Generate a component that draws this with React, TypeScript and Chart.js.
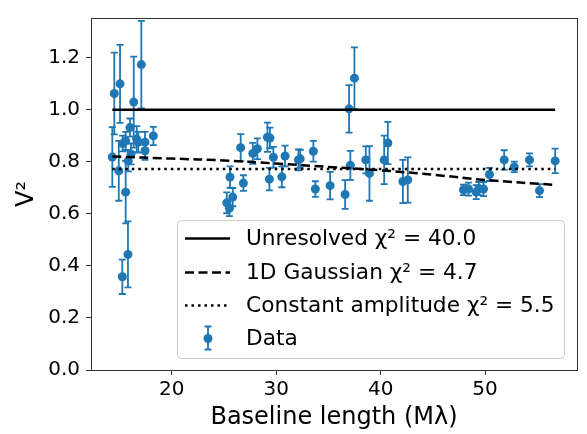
import React, { useEffect, useRef } from 'react';
import { Chart, registerables } from 'chart.js';

Chart.register(...registerables);

// ---- Data ----
const baselines = [
  14.31, 14.5, 14.93, 15.05, 15.27, 15.3, 15.59, 15.59, 15.81, 15.84, 16.0, 16.1, 16.36, 16.65, 16.8, 17.09, 17.44, 17.44, 18.24,
  25.27, 25.52, 25.58, 25.84, 26.6, 26.86, 27.76, 28.2, 29.16, 29.35, 29.4, 29.73, 30.54, 30.85, 32.13, 32.3, 33.56, 33.75,
  35.16, 36.6, 36.98, 37.1, 37.49, 38.58, 38.93, 40.34, 40.69, 42.13, 42.6,
  47.93, 48.41, 49.15, 49.4, 49.85, 50.42, 51.83, 52.79, 54.25, 55.21, 56.71,
];
const visibility = [
  0.818, 1.062, 0.765, 1.099, 0.358, 0.87, 0.683, 0.88, 0.444, 0.803, 0.931, 0.83, 1.029, 0.887, 0.875, 1.173, 0.875, 0.842, 0.899,
  0.642, 0.621, 0.741, 0.664, 0.854, 0.718, 0.832, 0.85, 0.894, 0.733, 0.891, 0.817, 0.742, 0.822, 0.807, 0.811, 0.84, 0.695,
  0.708, 0.674, 1.003, 0.786, 1.121, 0.807, 0.755, 0.807, 0.872, 0.724, 0.73,
  0.692, 0.695, 0.683, 0.697, 0.695, 0.751, 0.807, 0.78, 0.807, 0.689, 0.803,
];
const errors = [
  0.115, 0.157, 0.115, 0.15, 0.066, 0.03, 0.12, 0.035, 0.127, 0.04, 0.035, 0.04, 0.175, 0.05, 0.04, 0.168, 0.04, 0.035, 0.035,
  0.04, 0.03, 0.041, 0.035, 0.052, 0.03, 0.04, 0.04, 0.056, 0.043, 0.04, 0.04, 0.04, 0.04, 0.04, 0.035, 0.04, 0.03,
  0.053, 0.055, 0.091, 0.056, 0.118, 0.052, 0.105, 0.093, 0.081, 0.083, 0.087,
  0.02, 0.025, 0.027, 0.025, 0.027, 0.025, 0.037, 0.02, 0.025, 0.025, 0.047,
];
const modelX = [14.31, 20, 25, 30, 35, 40, 45, 50, 56.71];
const unresolvedV = [1.0, 1.0, 1.0, 1.0, 1.0, 1.0, 1.0, 1.0, 1.0];
const gaussianV = [0.82, 0.812, 0.805, 0.793, 0.78, 0.767, 0.75, 0.73, 0.711];
const constantV = [0.772, 0.772, 0.772, 0.772, 0.772, 0.772, 0.772, 0.772, 0.772];
const xTicks = [20, 30, 40, 50];
const yTicks = [0, 0.2, 0.4, 0.6, 0.8, 1.0, 1.2];
const seriesLabels = [
  'Unresolved χ² = 40.0',
  '1D Gaussian χ² = 4.7',
  'Constant amplitude χ² = 5.5',
  'Data',
];

const BLUE = '#1f77b4';
const FONT = "'DejaVu Sans', sans-serif";

const errorBarPlugin = {
  id: 'errorBars',
  beforeDatasetDraw(chart: any, args: any) {
    if (args.index !== 3) return;
    const ctx = chart.ctx;
    const xs = chart.scales.x;
    const ys = chart.scales.y;
    ctx.save();
    ctx.strokeStyle = BLUE;
    ctx.lineWidth = 1.8;
    for (let i = 0; i < baselines.length; i++) {
      const px = xs.getPixelForValue(baselines[i]);
      const top = ys.getPixelForValue(visibility[i] + errors[i]);
      const bot = ys.getPixelForValue(visibility[i] - errors[i]);
      ctx.beginPath();
      ctx.moveTo(px, top);
      ctx.lineTo(px, bot);
      ctx.moveTo(px - 3.5, top);
      ctx.lineTo(px + 3.5, top);
      ctx.moveTo(px - 3.5, bot);
      ctx.lineTo(px + 3.5, bot);
      ctx.stroke();
    }
    ctx.restore();
  },
};

const framePlugin = {
  id: 'frame',
  afterDatasetsDraw(chart: any) {
    const { ctx, chartArea: a } = chart;
    ctx.save();
    ctx.strokeStyle = '#333';
    ctx.lineWidth = 1;
    ctx.strokeRect(Math.round(a.left) + 0.5, Math.round(a.top) + 0.5, Math.round(a.right - a.left), Math.round(a.bottom - a.top));
    ctx.restore();
  },
};

const legendPlugin = {
  id: 'customLegend',
  afterDraw(chart: any) {
    const ctx = chart.ctx;
    const x0 = 177.5, y0 = 220.5, w = 387, h = 138, r = 4;
    ctx.save();
    ctx.beginPath();
    ctx.moveTo(x0 + r, y0);
    ctx.lineTo(x0 + w - r, y0);
    ctx.arcTo(x0 + w, y0, x0 + w, y0 + r, r);
    ctx.lineTo(x0 + w, y0 + h - r);
    ctx.arcTo(x0 + w, y0 + h, x0 + w - r, y0 + h, r);
    ctx.lineTo(x0 + r, y0 + h);
    ctx.arcTo(x0, y0 + h, x0, y0 + h - r, r);
    ctx.lineTo(x0, y0 + r);
    ctx.arcTo(x0, y0, x0 + r, y0, r);
    ctx.closePath();
    ctx.fillStyle = 'rgba(255,255,255,0.8)';
    ctx.fill();
    ctx.strokeStyle = '#cccccc';
    ctx.lineWidth = 1;
    ctx.stroke();

    const rows = [238.5, 272.5, 305.5, 338.5];
    const lx0 = 185, lx1 = 230, tx = 246;
    ctx.font = `21.7px ${FONT}`;
    ctx.fillStyle = '#000';
    ctx.textBaseline = 'middle';
    ctx.textAlign = 'left';
    const dashes = [[], [9, 4.5], [2.5, 4]];
    for (let i = 0; i < 4; i++) {
      const y = rows[i];
      if (i < 3) {
        ctx.beginPath();
        ctx.setLineDash(dashes[i]);
        ctx.strokeStyle = '#000';
        ctx.lineWidth = 2.5;
        ctx.moveTo(lx0, y);
        ctx.lineTo(lx1, y);
        ctx.stroke();
        ctx.setLineDash([]);
      } else {
        const cx = 208;
        ctx.beginPath();
        ctx.strokeStyle = BLUE;
        ctx.lineWidth = 1.8;
        ctx.moveTo(cx, y - 12);
        ctx.lineTo(cx, y + 11);
        ctx.moveTo(cx - 3.5, y - 12);
        ctx.lineTo(cx + 3.5, y - 12);
        ctx.moveTo(cx - 3.5, y + 11);
        ctx.lineTo(cx + 3.5, y + 11);
        ctx.stroke();
        ctx.beginPath();
        ctx.fillStyle = BLUE;
        ctx.arc(cx, y, 4.5, 0, Math.PI * 2);
        ctx.fill();
        ctx.fillStyle = '#000';
      }
      ctx.fillText(seriesLabels[i], tx, y + 1);
    }
    ctx.restore();
  },
};

export default function App() {
  const ref = useRef<HTMLCanvasElement | null>(null);
  useEffect(() => {
    if (!ref.current) return;
    const line = (ys: number[]) => modelX.map((x, i) => ({ x, y: ys[i] }));
    const chart = new Chart(ref.current, {
      type: 'scatter',
      data: {
        datasets: [
          {
            label: seriesLabels[0],
            data: line(unresolvedV),
            showLine: true,
            borderColor: '#000',
            borderWidth: 2.5,
            pointRadius: 0,
          },
          {
            label: seriesLabels[1],
            data: line(gaussianV),
            showLine: true,
            borderColor: '#000',
            borderWidth: 2.5,
            borderDash: [9, 4.5],
            pointRadius: 0,
            tension: 0.4,
          },
          {
            label: seriesLabels[2],
            data: line(constantV),
            showLine: true,
            borderColor: '#000',
            borderWidth: 2.5,
            borderDash: [2.5, 4],
            pointRadius: 0,
          },
          {
            label: seriesLabels[3],
            data: baselines.map((x, i) => ({ x, y: visibility[i] })),
            backgroundColor: BLUE,
            borderColor: BLUE,
            borderWidth: 0,
            pointRadius: 4.5,
          },
        ],
      } as any,
      options: {
        animation: false,
        responsive: false,
        layout: { padding: { left: 0, top: 7, right: 10, bottom: 0 } },
        plugins: { legend: { display: false }, tooltip: { enabled: false } },
        scales: {
          x: {
            type: 'linear',
            min: 12.27,
            max: 58.8,
            afterBuildTicks: (s: any) => {
              s.ticks = xTicks.map((v) => ({ value: v }));
            },
            afterFit: (s: any) => {
              s.height = 64;
            },
            grid: { drawOnChartArea: false, drawTicks: true, tickLength: 5, color: '#333' },
            border: { display: false },
            ticks: { color: '#000', font: { family: FONT, size: 20 }, padding: 3, maxRotation: 0 },
            title: { display: true, text: 'Baseline length (Mλ)', color: '#000', font: { family: FONT, size: 24 }, padding: { top: 0, bottom: 2 } },
          },
          y: {
            type: 'linear',
            min: 0,
            max: 1.352,
            afterBuildTicks: (s: any) => {
              s.ticks = yTicks.map((v) => ({ value: v }));
            },
            afterFit: (s: any) => {
              s.width = 91;
            },
            grid: { drawOnChartArea: false, drawTicks: true, tickLength: 5, color: '#333' },
            border: { display: false },
            ticks: {
              color: '#000',
              font: { family: FONT, size: 20 },
              padding: 6,
              callback: (v: any) => Number(v).toFixed(1),
            },
            title: { display: true, text: 'V²', color: '#000', font: { family: FONT, size: 24 }, padding: { top: 12, bottom: 0 } },
          },
        },
      } as any,
      plugins: [errorBarPlugin, framePlugin, legendPlugin],
    });
    return () => chart.destroy();
  }, []);
  return (
    <div style={{ position: 'absolute', left: 0, top: 0, width: 587, height: 434, background: '#fff' }}>
      <canvas ref={ref} width={587} height={434} style={{ width: 587, height: 434 }} />
    </div>
  );
}
